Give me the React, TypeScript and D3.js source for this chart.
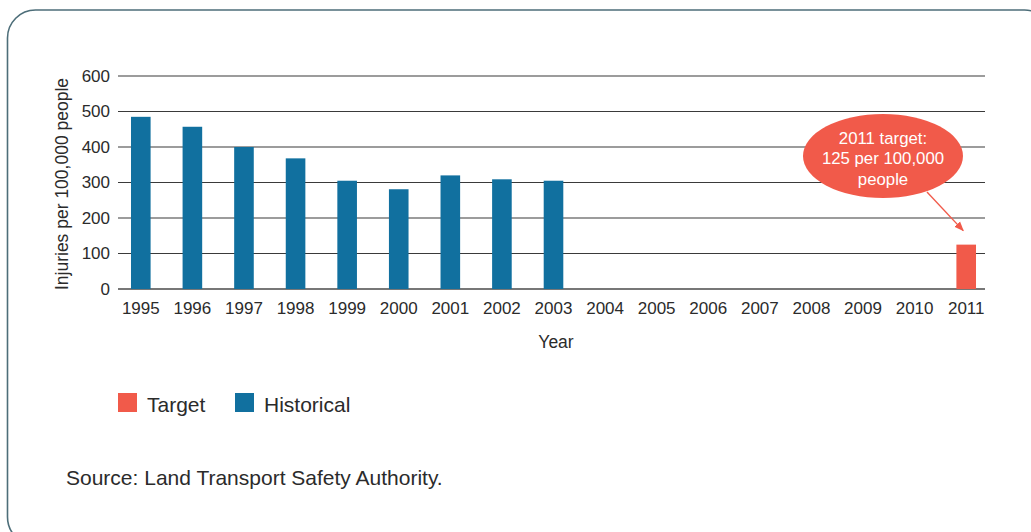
import React from "react";
import * as d3 from "d3";

// Road injuries per 100,000 people, New Zealand
const years: string[] = [
  "1995", "1996", "1997", "1998", "1999", "2000", "2001", "2002", "2003",
  "2004", "2005", "2006", "2007", "2008", "2009", "2010", "2011",
];
const historicalYears: string[] = ["1995", "1996", "1997", "1998", "1999", "2000", "2001", "2002", "2003"];
const historicalValues: number[] = [485, 457, 400, 368, 305, 281, 320, 309, 305];
const targetYears: string[] = ["2011"];
const targetValues: number[] = [125];
const yTicks: number[] = [0, 100, 200, 300, 400, 500, 600];
const calloutLines: string[] = ["2011 target:", "125 per 100,000", "people"];
const legendItems: { label: string; key: "target" | "historical" }[] = [
  { label: "Target", key: "target" },
  { label: "Historical", key: "historical" },
];

const W = 1031;
const H = 532;
const FONT = "'Liberation Sans', Arial, Helvetica, sans-serif";
const TEXT = "#2b2b2b";
const BLUE = "#11709f";
const RED = "#f15a4a";

export default function App() {
  const x = d3.scaleBand<string>().domain(years).range([115, 992]).paddingInner(0.62).paddingOuter(0.31);
  const y = d3.scaleLinear().domain([0, 600]).range([289, 76]);
  const gridX0 = 118;
  const gridX1 = 985;

  const historical = historicalYears.map((yr, i) => ({ year: yr, value: historicalValues[i] }));
  const target = targetYears.map((yr, i) => ({ year: yr, value: targetValues[i] }));

  const tBar = target[0];
  const tCx = (x(tBar.year) ?? 0) + x.bandwidth() / 2;
  const ell = { cx: 883, cy: 156, rx: 80, ry: 42 };
  const arrowStart: [number, number] = [927, 192];
  const arrowEnd: [number, number] = [tCx - 3, y(tBar.value) - 14];

  return (
    <svg width={W} height={H} style={{ position: "absolute", left: 0, top: 0 }}>
      <defs>
        <marker id="arrowHead" viewBox="0 0 10 10" refX="9" refY="5" markerWidth="7" markerHeight="7" orient="auto">
          <path d="M0,1 L10,5 L0,9 Z" fill={RED} />
        </marker>
      </defs>
      <rect x={0} y={0} width={W} height={H} fill="#fff" />
      <rect x={7.5} y={10} width={1045} height={535} rx={28} ry={28} fill="none" stroke="#4d6e79" strokeWidth={1.6} />

      {/* gridlines */}
      {yTicks.map((t) => (
        <line
          key={t}
          x1={gridX0}
          x2={gridX1}
          y1={y(t)}
          y2={y(t)}
          stroke={t === 0 ? "#777" : "#3a3a3a"}
          strokeWidth={t === 0 ? 2 : 1.1}
        />
      ))}
      {yTicks.map((t) => (
        <text key={"yl" + t} x={110} y={y(t)} dy="0.35em" textAnchor="end" fontFamily={FONT} fontSize={17} fill={TEXT}>
          {t}
        </text>
      ))}

      {/* bars */}
      {historical.map((d) => (
        <rect key={d.year} x={x(d.year)} y={y(d.value)} width={x.bandwidth()} height={y(0) - y(d.value)} fill={BLUE} />
      ))}
      {target.map((d) => (
        <rect key={d.year} x={x(d.year)} y={y(d.value)} width={x.bandwidth()} height={y(0) - y(d.value)} fill={RED} />
      ))}

      {/* x tick labels */}
      {years.map((yr) => (
        <text key={yr} x={(x(yr) ?? 0) + x.bandwidth() / 2} y={314} textAnchor="middle" fontFamily={FONT} fontSize={17} fill={TEXT}>
          {yr}
        </text>
      ))}

      <text x={556} y={348} textAnchor="middle" fontFamily={FONT} fontSize={17.5} fill={TEXT}>
        Year
      </text>
      <text
        transform="translate(68,184) rotate(-90)"
        textAnchor="middle"
        fontFamily={FONT}
        fontSize={17.5}
        fill={TEXT}
      >
        Injuries per 100,000 people
      </text>

      {/* callout */}
      <line
        x1={arrowStart[0]}
        y1={arrowStart[1]}
        x2={arrowEnd[0]}
        y2={arrowEnd[1]}
        stroke={RED}
        strokeWidth={1.4}
        markerEnd="url(#arrowHead)"
      />
      <ellipse cx={ell.cx} cy={ell.cy} rx={ell.rx} ry={ell.ry} fill={RED} />
      {calloutLines.map((l, i) => (
        <text
          key={l}
          x={ell.cx}
          y={ell.cy - 18 + i * 20.5}
          dy="0.35em"
          textAnchor="middle"
          fontFamily={FONT}
          fontSize={16.8}
          fill="#fff"
        >
          {l}
        </text>
      ))}

      {/* legend */}
      {legendItems.map((item, i) => {
        const lx = i === 0 ? 118 : 235;
        return (
          <g key={item.key}>
            <rect x={lx} y={393} width={19} height={19} fill={item.key === "target" ? RED : BLUE} />
            <text x={lx + 29} y={412} fontFamily={FONT} fontSize={21} fill={TEXT}>
              {item.label}
            </text>
          </g>
        );
      })}

      <text x={66} y={485} fontFamily={FONT} fontSize={21} fill={TEXT}>
        Source: Land Transport Safety Authority.
      </text>
    </svg>
  );
}
